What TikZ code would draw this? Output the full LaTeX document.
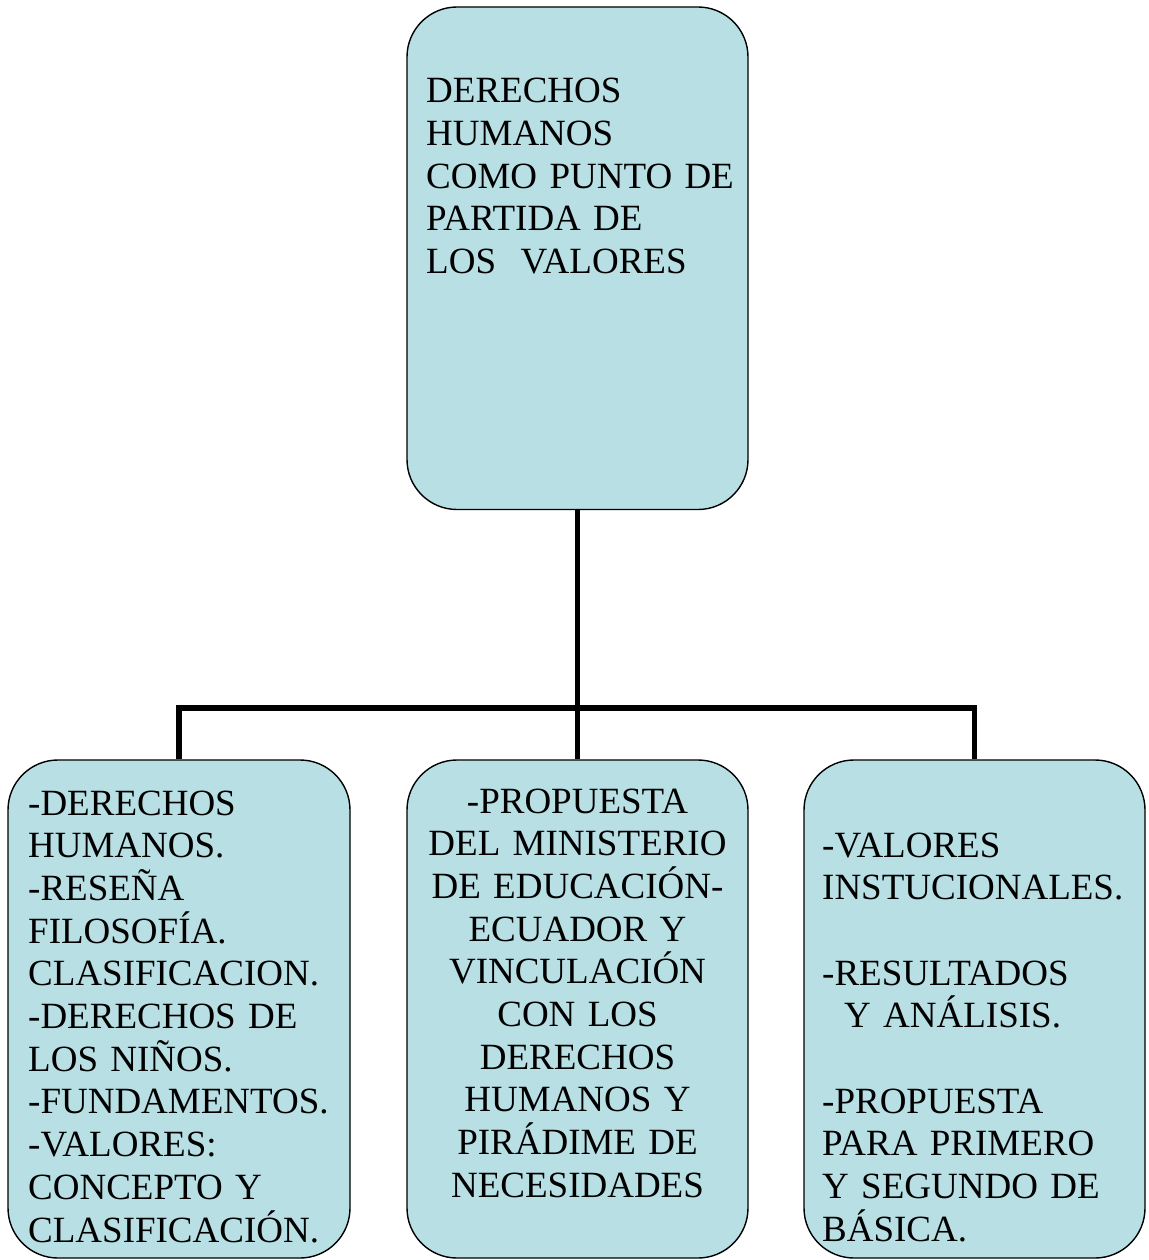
\documentclass[tikz,border=0pt]{standalone}
\usepackage{fontspec}
\setmainfont{Liberation Serif}
\definecolor{boxfill}{RGB}{184,223,228}
\lineskiplimit=-100pt
\begin{document}
\begin{tikzpicture}[x=1pt,y=-1pt,
  box/.style={draw=black, line width=1.4pt, fill=boxfill, rounded corners=50pt, inner sep=0pt},
  txt/.style={inner sep=0pt, text=black, font=\fontsize{37}{42.7}\selectfont},
  conn/.style={line width=5.5pt, line join=miter, line cap=butt, draw=black}]
\useasboundingbox[fill=white] (0,0) rectangle (1148,1260);
% boxes
\node[box, minimum width=341pt, minimum height=502.5pt] (top) at (577.5,258.25) {};
\node[box, minimum width=342pt, minimum height=498pt] (b1) at (179,1009) {};
\node[box, minimum width=341pt, minimum height=498pt] (b2) at (577.5,1009) {};
\node[box, minimum width=341pt, minimum height=498pt] (b3) at (974.5,1009) {};
% connectors
\coordinate (j) at (577.5,708);
\draw[conn] (top.south) -- (j);
\draw[conn] (b1.north) -- (b1.north |- j) -- (b3.north |- j) -- (b3.north);
\draw[conn] (j) -- (b2.north);
% texts
\node[txt, anchor=base west, text width=320pt, align=left] (ttop) at (426,102.7)
  {DERECHOS\\HUMANOS\\COMO PUNTO DE\\PARTIDA DE\\LOS\ \ VALORES};
\node[txt, anchor=base west, text width=325pt, align=left] (t1) at (28,815)
  {-DERECHOS\\HUMANOS.\\-RESEÑA\\FILOSOFÍA.\\CLASIFICACION.\\-DERECHOS DE\\LOS NIÑOS.\\-FUNDAMENTOS.\\-VALORES:\\CONCEPTO Y\\CLASIFICACIÓN.};
\node[txt, anchor=base, text width=340pt, align=center] (t2) at (577.5,813)
  {-PROPUESTA\\DEL MINISTERIO\\DE EDUCACIÓN-\\ECUADOR Y\\VINCULACIÓN\\CON LOS\\DERECHOS\\HUMANOS Y\\PIRÁDIME DE\\NECESIDADES};
\node[txt, anchor=base west, text width=322pt, align=left] (t3) at (822,857)
  {-VALORES\\INSTUCIONALES.\\\mbox{}\\-RESULTADOS\\\hspace*{22pt}Y ANÁLISIS.\\\mbox{}\\-PROPUESTA\\PARA PRIMERO\\Y SEGUNDO DE\\BÁSICA.};
\end{tikzpicture}
\end{document}
